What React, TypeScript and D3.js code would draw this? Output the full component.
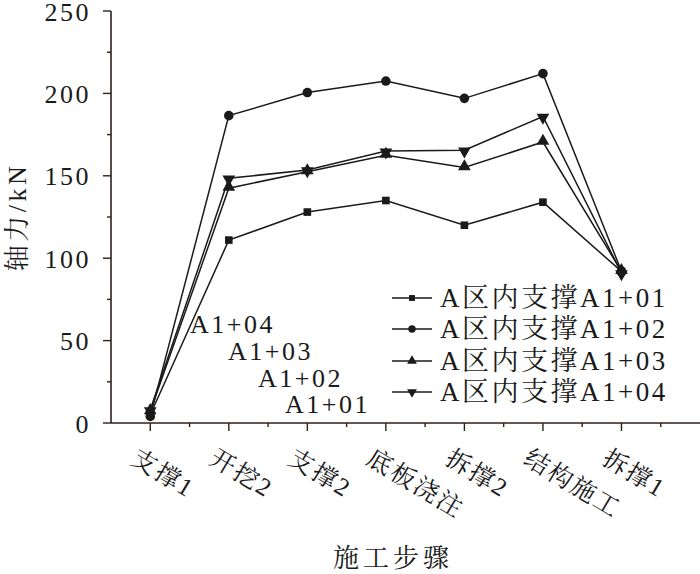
import React from "react";
import * as d3 from "d3";

// construction steps (x categories)
const steps = ["支撑1", "开挖2", "支撑2", "底板浇注", "拆撑2", "结构施工", "拆撑1"];

// axial force, kN
const a101 = [5, 111, 128, 135, 120, 134, 92];
const a102 = [4, 186.5, 200.5, 207.5, 197, 212, 92];
const a103 = [7, 142.5, 152.5, 162.5, 155, 170.5, 92];
const a104 = [8, 148.5, 153.5, 165, 165.5, 186, 91];

const seriesNames = ["A区内支撑A1+01", "A区内支撑A1+02", "A区内支撑A1+03", "A区内支撑A1+04"];
const pointLabels = ["A1+04", "A1+03", "A1+02", "A1+01"];
const yTicks = [0, 50, 100, 150, 200, 250];

const LAT = '"Liberation Serif"';
const CJK = '"Liberation Serif", "Noto Serif CJK SC"';
const INK = "#1a1a1a";
const AXIS = "#2b211d";

const x = d3.scaleLinear().domain([-0.5, 7]).range([111, 700]);
const y = d3.scaleLinear().domain([0, 250]).range([423, 11]);

const all = [a101, a102, a103, a104];
const symbols = [d3.symbolSquare, d3.symbolCircle, d3.symbolTriangle, d3.symbolTriangle];
const sizes = [58, 72, 70, 70];
const line = d3.line<number>().x((d, i) => x(i)).y((d) => y(d));

function markerTf(k: number, cx: number, cy: number) {
  const dy = k === 2 ? -1 : k === 3 ? 1 : 0;
  return `translate(${cx},${cy + dy})${k === 3 ? " rotate(180)" : ""}`;
}

function App() {
  const lx = [190, 228, 258, 285];
  const ly = [333, 360, 387, 413];
  const rows = [298, 329, 361, 392];
  return (
    <svg width={700} height={574} style={{ position: "absolute", left: 0, top: 0, background: "#fff" }}>
      {/* y axis */}
      <line x1={x(-0.5)} x2={x(-0.5)} y1={y(0)} y2={y(250)} stroke={AXIS} strokeWidth={1.6} />
      {d3.range(0, 251, 25).map((v) => (
        <line key={v} x1={x(-0.5)} x2={x(-0.5) - (v % 50 === 0 ? 8 : 4)} y1={y(v)} y2={y(v)} stroke={AXIS} strokeWidth={1.4} />
      ))}
      {yTicks.map((d) => (
        <text key={d} x={91} y={y(d) + 9.5} textAnchor="end" fill={INK}
          style={{ fontFamily: LAT, fontSize: 26, letterSpacing: 2.5 }}>{d}</text>
      ))}

      {/* x axis */}
      <line x1={x(-0.5)} x2={x(7)} y1={y(0)} y2={y(0)} stroke={AXIS} strokeWidth={1.6} />
      {d3.range(0, 7, 0.5).map((v) => (
        <line key={v} x1={x(v)} x2={x(v)} y1={y(0)} y2={y(0) + (v % 1 === 0 ? 8 : 4)} stroke={AXIS} strokeWidth={1.4} />
      ))}
      {steps.map((d, i) => (
        <text key={d} transform={`translate(${x(i) - 21},463) rotate(31)`} fill={INK}
          style={{ fontFamily: CJK, fontSize: 25, letterSpacing: 2 }}>{d}</text>
      ))}

      {/* axis titles */}
      <text x={393} y={567} textAnchor="middle" fill={INK}
        style={{ fontFamily: CJK, fontSize: 26, letterSpacing: 4 }}>施工步骤</text>
      <text transform="translate(26,217) rotate(-90)" textAnchor="middle" fill={INK}
        style={{ fontFamily: CJK, fontSize: 26, letterSpacing: 3.5 }}>轴力/kN</text>

      {/* series */}
      {all.map((vals, k) => (
        <path key={k} d={line(vals) ?? ""} fill="none" stroke={INK} strokeWidth={1.5} />
      ))}
      {all.map((vals, k) =>
        vals.map((v, i) => (
          <path key={`${k}-${i}`} d={d3.symbol().type(symbols[k]).size(sizes[k])() ?? ""}
            transform={markerTf(k, x(i), y(v))} fill={INK} />
        ))
      )}

      {/* point labels */}
      {pointLabels.map((d, i) => (
        <text key={d} x={lx[i]} y={ly[i]} fill={INK}
          style={{ fontFamily: LAT, fontSize: 26, letterSpacing: 2.5 }}>{d}</text>
      ))}

      {/* legend */}
      {seriesNames.map((name, k) => (
        <g key={name}>
          <line x1={392} x2={432} y1={rows[k]} y2={rows[k]} stroke={INK} strokeWidth={1.5} />
          <path d={d3.symbol().type(symbols[k]).size(sizes[k] * 0.6)() ?? ""}
            transform={`translate(412,${rows[k]})${k === 3 ? " rotate(180)" : ""}`} fill={INK} />
          <text x={440} y={rows[k] + 9} fill={INK}
            style={{ fontFamily: CJK, fontSize: 27, letterSpacing: 2.5 }}>{name}</text>
        </g>
      ))}
    </svg>
  );
}

export default App;
